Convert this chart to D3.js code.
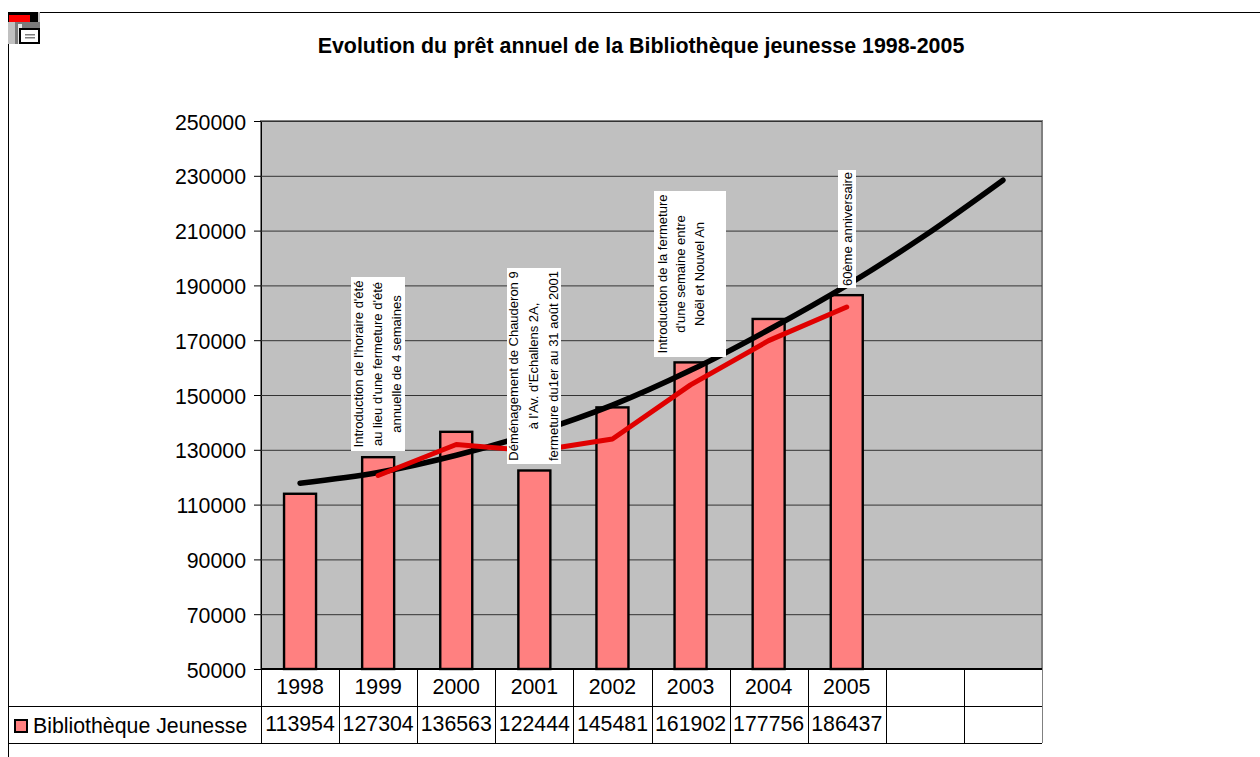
<!DOCTYPE html>
<html>
<head>
<meta charset="utf-8">
<script src="https://cdn.jsdelivr.net/npm/d3@7"></script>
<style>
  html, body { margin: 0; padding: 0; background: #fff; overflow: hidden; }
  svg { display: block; }
  text { font-family: "Liberation Sans", Arial, sans-serif; fill: #000; }
</style>
</head>
<body>
<div id="chart"></div>
<script>
const title = "Evolution du prêt annuel de la Bibliothèque jeunesse 1998-2005";
const seriesName = "Bibliothèque Jeunesse";
// 2006 and 2007 only carry the trend line, their table cells stay empty
const years = [1998, 1999, 2000, 2001, 2002, 2003, 2004, 2005, 2006, 2007];
const loans = [113954, 127304, 136563, 122444, 145481, 161902, 177756, 186437];
const yTicks = [50000, 70000, 90000, 110000, 130000, 150000, 170000, 190000, 210000, 230000, 250000];
const trend = [117800, 121700, 128000, 136200, 146300, 159000, 173800, 190000, 208200, 228400];
const average = [null, 120629, 131933, 129503, 133962, 153691, 169829, 182096];
const notes = [
    ["Introduction de l'horaire d'été", "au lieu d'une fermeture d'été", "annuelle de 4 semaines"],
    ["Déménagement de Chauderon 9", "à l'Av. d'Echallens 2A,", "fermeture du1er au 31 août 2001"],
    ["Introduction de la fermeture", "d'une semaine entre", "Noël et Nouvel An"],
    ["60ème anniversaire"]
];

const width = 1260, height = 757;
const plot = { left: 261, right: 1042, top: 121, bottom: 669 };
const tableLeft = 8, rowHeight = 37;
const labelSize = "21.3px";
// textX is the middle of the text block, it sits left of the box centre on the third note
const noteBoxes = [
    { x: 351, y: 277, w: 54, h: 174, textX: 377, step: 19 },
    { x: 507, y: 268, w: 54, h: 196, textX: 533, step: 20 },
    { x: 654, y: 191, w: 72, h: 166, textX: 680, step: 18.5 },
    { x: 838, y: 170, w: 18, h: 118, textX: 847, step: 0 }
];

const svg = d3.select("#chart").append("svg")
    .attr("width", width)
    .attr("height", height);

const x = d3.scaleBand().domain(years).range([plot.left, plot.right]);
const y = d3.scaleLinear().domain([50000, 250000]).range([plot.bottom, plot.top]);
const cx = year => x(year) + x.bandwidth() / 2;

// Page frame
svg.append("path")
    .attr("d", `M40,12.5H${width}M8.5,44V${height}`)
    .attr("stroke", "#000")
    .attr("fill", "none");

// Save icon in the top left corner
const icon = svg.append("g").attr("transform", "translate(8,12)");
icon.append("rect").attr("width", 32).attr("height", 32).attr("fill", "#c0c0c0");
icon.append("rect").attr("x", 7).attr("y", 10).attr("width", 25).attr("height", 22).attr("fill", "#7a7a7a");
icon.append("rect").attr("x", 10).attr("y", 12).attr("width", 4).attr("height", 20).attr("fill", "#e8e8e8");
icon.append("rect").attr("width", 30).attr("height", 10).attr("fill", "#000");
icon.append("rect").attr("x", 1).attr("y", 3).attr("width", 21).attr("height", 7).attr("fill", "#f00");
icon.append("rect").attr("x", 11).attr("y", 16).attr("width", 21).attr("height", 16).attr("fill", "#000");
icon.append("rect").attr("x", 13).attr("y", 18).attr("width", 17).attr("height", 12).attr("fill", "#fff");
icon.append("rect").attr("x", 17).attr("y", 22).attr("width", 10).attr("height", 1.5).attr("fill", "#808080");
icon.append("rect").attr("x", 17).attr("y", 25).attr("width", 10).attr("height", 1.5).attr("fill", "#808080");

// Title
svg.append("text")
    .attr("x", 641)
    .attr("y", 53)
    .attr("text-anchor", "middle")
    .style("font-size", "21.4px")
    .style("font-weight", "bold")
    .text(title);

// Plot background
svg.append("rect")
    .attr("x", plot.left)
    .attr("y", plot.top)
    .attr("width", plot.right - plot.left)
    .attr("height", plot.bottom - plot.top)
    .attr("fill", "#c0c0c0")
    .attr("stroke", "#808080")
    .attr("stroke-width", 2);

// Y axis and gridlines
const yAxis = svg.append("g")
    .attr("transform", `translate(${plot.left},0)`)
    .call(d3.axisLeft(y).tickValues(yTicks).tickFormat(d3.format("d")).tickSizeOuter(0).tickSize(7).tickPadding(8));
yAxis.select(".domain").attr("stroke", "#000");
yAxis.selectAll("text").style("font-size", labelSize).attr("dy", "0.38em");
yAxis.selectAll(".tick").append("line")
    .attr("x1", 0)
    .attr("x2", plot.right - plot.left)
    .attr("stroke", "#333");

// Bars
const barWidth = 32;
svg.append("g").selectAll("rect")
    .data(loans)
    .enter()
    .append("rect")
    .attr("x", (d, i) => cx(years[i]) - barWidth / 2)
    .attr("y", d => y(d))
    .attr("width", barWidth)
    .attr("height", d => plot.bottom - y(d))
    .attr("fill", "#ff8080")
    .attr("stroke", "#000")
    .attr("stroke-width", 2.4);

// Trend curve
const trendLine = d3.line()
    .x((d, i) => cx(years[i]))
    .y(d => y(d))
    .curve(d3.curveCatmullRom);
svg.append("path")
    .attr("d", trendLine(trend))
    .attr("fill", "none")
    .attr("stroke", "#000")
    .attr("stroke-width", 5.5)
    .attr("stroke-linecap", "round");

// Moving average
const averageLine = d3.line()
    .defined(d => d !== null)
    .x((d, i) => cx(years[i]))
    .y(d => y(d));
svg.append("path")
    .attr("d", averageLine(average))
    .attr("fill", "none")
    .attr("stroke", "#e00000")
    .attr("stroke-width", 5)
    .attr("stroke-linecap", "round")
    .attr("stroke-linejoin", "round");

// Annotation boxes with vertical text
notes.forEach((lines, i) => {
    const box = noteBoxes[i];
    const g = svg.append("g");
    g.append("rect")
        .attr("x", box.x)
        .attr("y", box.y)
        .attr("width", box.w)
        .attr("height", box.h)
        .attr("fill", "#fff");
    lines.forEach((line, j) => {
        const tx = box.textX + (j - (lines.length - 1) / 2) * box.step + 5;
        const ty = box.y + box.h / 2;
        g.append("text")
            .attr("transform", `translate(${tx},${ty}) rotate(-90)`)
            .attr("text-anchor", "middle")
            .style("font-size", "13px")
            .text(line);
    });
});

// Data table under the plot
const table = svg.append("g").attr("stroke", "#000").attr("fill", "none");
table.append("path").attr("d", `M${plot.left},${plot.bottom}H${plot.right}`).attr("stroke-width", 2);
table.append("path").attr("d", `M${tableLeft},${plot.bottom + rowHeight + 0.5}H${plot.right}`);
table.append("path").attr("d", `M${tableLeft},${plot.bottom + rowHeight * 2 + 0.5}H${plot.right}`);
years.forEach(year => {
    table.append("path").attr("d", `M${Math.round(x(year)) + 0.5},${plot.bottom}V${plot.bottom + rowHeight * 2}`);
});
table.append("path").attr("d", `M${plot.right + 0.5},${plot.bottom}V${plot.bottom + rowHeight * 2}`).attr("stroke", "#808080");

svg.append("g").selectAll("text")
    .data(years.slice(0, loans.length))
    .enter()
    .append("text")
    .attr("x", d => cx(d))
    .attr("y", plot.bottom + 25)
    .attr("text-anchor", "middle")
    .style("font-size", labelSize)
    .text(d => d);

svg.append("g").selectAll("text")
    .data(loans)
    .enter()
    .append("text")
    .attr("x", (d, i) => cx(years[i]))
    .attr("y", plot.bottom + rowHeight + 25)
    .attr("text-anchor", "middle")
    .style("font-size", labelSize)
    .text(d => d);

// Legend key in the table
svg.append("rect")
    .attr("x", 15)
    .attr("y", plot.bottom + rowHeight + 14)
    .attr("width", 12)
    .attr("height", 12)
    .attr("fill", "#ff8080")
    .attr("stroke", "#000")
    .attr("stroke-width", 2);
svg.append("text")
    .attr("x", 33)
    .attr("y", plot.bottom + rowHeight + 27)
    .style("font-size", labelSize)
    .text(seriesName);
</script>
</body>
</html>
